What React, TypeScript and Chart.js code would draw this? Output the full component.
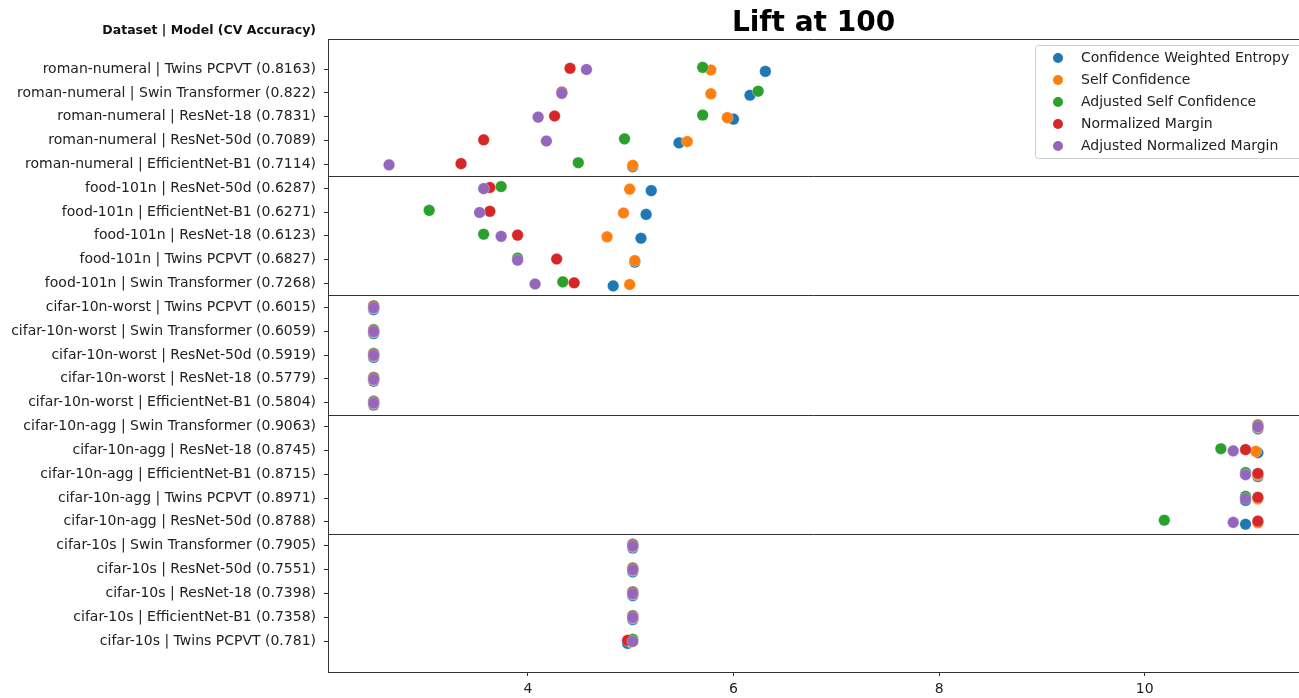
import React, { useEffect, useRef } from "react";
import { Chart, registerables } from "chart.js";

Chart.register(...registerables);

const rowLabels: string[] = [
  "roman-numeral | Twins PCPVT (0.8163)",
  "roman-numeral | Swin Transformer (0.822)",
  "roman-numeral | ResNet-18 (0.7831)",
  "roman-numeral | ResNet-50d (0.7089)",
  "roman-numeral | EfficientNet-B1 (0.7114)",
  "food-101n | ResNet-50d (0.6287)",
  "food-101n | EfficientNet-B1 (0.6271)",
  "food-101n | ResNet-18 (0.6123)",
  "food-101n | Twins PCPVT (0.6827)",
  "food-101n | Swin Transformer (0.7268)",
  "cifar-10n-worst | Twins PCPVT (0.6015)",
  "cifar-10n-worst | Swin Transformer (0.6059)",
  "cifar-10n-worst | ResNet-50d (0.5919)",
  "cifar-10n-worst | ResNet-18 (0.5779)",
  "cifar-10n-worst | EfficientNet-B1 (0.5804)",
  "cifar-10n-agg | Swin Transformer (0.9063)",
  "cifar-10n-agg | ResNet-18 (0.8745)",
  "cifar-10n-agg | EfficientNet-B1 (0.8715)",
  "cifar-10n-agg | Twins PCPVT (0.8971)",
  "cifar-10n-agg | ResNet-50d (0.8788)",
  "cifar-10s | Swin Transformer (0.7905)",
  "cifar-10s | ResNet-50d (0.7551)",
  "cifar-10s | ResNet-18 (0.7398)",
  "cifar-10s | EfficientNet-B1 (0.7358)",
  "cifar-10s | Twins PCPVT (0.781)",
];

const seriesNames: string[] = [
  "Confidence Weighted Entropy",
  "Self Confidence",
  "Adjusted Self Confidence",
  "Normalized Margin",
  "Adjusted Normalized Margin",
];

const confidenceWeightedEntropy: number[] = [
  6.31, 6.16, 6.0, 5.47, 5.02,
  5.2, 5.15, 5.1, 5.04, 4.83,
  2.5, 2.5, 2.5, 2.5, 2.5,
  11.1, 11.1, 11.1, 10.98, 10.98,
  5.02, 5.02, 5.02, 5.02, 4.97,
];
const selfConfidence: number[] = [
  5.78, 5.78, 5.94, 5.55, 5.02,
  4.99, 4.93, 4.77, 5.04, 4.99,
  2.5, 2.5, 2.5, 2.5, 2.5,
  11.1, 11.08, 11.1, 11.1, 11.1,
  5.02, 5.02, 5.02, 5.02, 5.0,
];
const adjustedSelfConfidence: number[] = [
  5.7, 6.24, 5.7, 4.94, 4.49,
  3.74, 3.04, 3.57, 3.9, 4.34,
  2.5, 2.5, 2.5, 2.5, 2.5,
  11.1, 10.74, 10.98, 10.98, 10.19,
  5.02, 5.02, 5.02, 5.02, 5.02,
];
const normalizedMargin: number[] = [
  4.41, 4.33, 4.26, 3.57, 3.35,
  3.63, 3.63, 3.9, 4.28, 4.45,
  2.5, 2.5, 2.5, 2.5, 2.5,
  11.1, 10.98, 11.1, 11.1, 11.1,
  5.02, 5.02, 5.02, 5.02, 4.97,
];
const adjustedNormalizedMargin: number[] = [
  4.57, 4.33, 4.1, 4.18, 2.65,
  3.57, 3.53, 3.74, 3.9, 4.07,
  2.5, 2.5, 2.5, 2.5, 2.5,
  11.1, 10.86, 10.98, 10.98, 10.86,
  5.02, 5.02, 5.02, 5.02, 5.02,
];

const xTicks: number[] = [4, 6, 8, 10];
const groupSeparators: number[] = [4.5, 9.5, 14.5, 19.5];

const seriesValues = [
  confidenceWeightedEntropy,
  selfConfidence,
  adjustedSelfConfidence,
  normalizedMargin,
  adjustedNormalizedMargin,
];
const colors = ["#1f77b4", "#ff7f0e", "#2ca02c", "#d62728", "#9467bd"];
const jitter = [0.1, 0.04, -0.07, -0.03, 0.02];

const FONT = "'DejaVu Sans', sans-serif";
const W = 1299;
const H = 698;

const decorPlugin = {
  id: "decor",
  afterDraw(chart: any) {
    const ctx = chart.ctx;
    const area = chart.chartArea;
    const y = chart.scales.y;
    ctx.save();
    ctx.strokeStyle = "#333";
    ctx.lineWidth = 1;
    ctx.beginPath();
    ctx.moveTo(area.left, Math.round(area.top) + 0.5);
    ctx.lineTo(area.right, Math.round(area.top) + 0.5);
    for (const s of groupSeparators) {
      const py = Math.round(y.getPixelForValue(s)) + 0.5;
      ctx.moveTo(area.left, py);
      ctx.lineTo(area.right, py);
    }
    ctx.stroke();

    // title
    ctx.fillStyle = "#000";
    ctx.font = `bold 28px ${FONT}`;
    ctx.textAlign = "center";
    ctx.textBaseline = "alphabetic";
    ctx.fillText("Lift at 100", (area.left + W) / 2, 31);

    // y header
    ctx.font = `bold 12.5px ${FONT}`;
    ctx.textAlign = "right";
    ctx.fillStyle = "#111";
    ctx.fillText("Dataset | Model (CV Accuracy)", 316, 34);

    // legend
    const lx = 1035.5, ly = 45.5, lw = 275, lh = 113;
    ctx.fillStyle = "rgba(255,255,255,0.85)";
    ctx.strokeStyle = "#d0d0d0";
    ctx.beginPath();
    ctx.roundRect(lx, ly, lw, lh, 3);
    ctx.fill();
    ctx.stroke();
    ctx.font = `14px ${FONT}`;
    ctx.textAlign = "left";
    ctx.textBaseline = "middle";
    seriesNames.forEach((name, i) => {
      const cy = 58 + i * 22;
      ctx.fillStyle = colors[i];
      ctx.beginPath();
      ctx.arc(1058, cy, 5, 0, Math.PI * 2);
      ctx.fill();
      ctx.fillStyle = "#222";
      ctx.fillText(name, 1081, cy);
    });
    ctx.restore();
  },
};

export default function App() {
  const ref = useRef<HTMLCanvasElement | null>(null);
  useEffect(() => {
    if (!ref.current) return;
    const datasets = seriesValues.map((vals, s) => ({
      label: seriesNames[s],
      order: seriesValues.length - s,
      data: vals.map((v, i) => ({ x: v, y: i + jitter[s] })),
      backgroundColor: colors[s],
      borderColor: "rgba(255,255,255,0.6)",
      borderWidth: 0.5,
      pointRadius: 5.8,
      pointHoverRadius: 5.8,
    }));
    const chart = new Chart(ref.current, {
      type: "scatter",
      data: { datasets },
      options: {
        animation: false,
        responsive: false,
        devicePixelRatio: 1,
        events: [],
        layout: { autoPadding: false, padding: { top: 39, left: 0, right: 0, bottom: 0 } },
        plugins: {
          legend: { display: false },
          tooltip: { enabled: false },
          title: { display: false },
        },
        scales: {
          x: {
            type: "linear",
            min: 2.056,
            max: 11.5,
            afterBuildTicks: (scale: any) => {
              scale.ticks = xTicks.map((v) => ({ value: v }));
            },
            afterFit: (scale: any) => {
              scale.height = 26;
            },
            grid: { drawOnChartArea: false, tickLength: 4, color: "#333" },
            border: { display: true, color: "#333", width: 1 },
            ticks: {
              font: { family: FONT, size: 14 },
              color: "#222",
              padding: 5,
              callback: (v: any) => String(v),
            },
          },
          y: {
            type: "linear",
            reverse: true,
            min: -1.26,
            max: 25.3,
            afterBuildTicks: (scale: any) => {
              scale.ticks = rowLabels.map((_, i) => ({ value: i }));
            },
            afterFit: (scale: any) => {
              scale.width = 328;
            },
            grid: { drawOnChartArea: false, tickLength: 4, color: "#333" },
            border: { display: true, color: "#333", width: 1 },
            ticks: {
              autoSkip: false,
              font: { family: FONT, size: 14 },
              color: "#222",
              padding: 8,
              callback: (v: any) => rowLabels[v as number] ?? "",
            },
          },
        },
      },
      plugins: [decorPlugin],
    });
    return () => chart.destroy();
  }, []);
  return (
    <div
      style={{
        position: "fixed",
        left: 0,
        top: 0,
        width: W,
        height: H,
        overflow: "hidden",
        background: "#fff",
      }}
    >
      <canvas ref={ref} width={W} height={H} style={{ width: W, height: H, display: "block" }} />
    </div>
  );
}
